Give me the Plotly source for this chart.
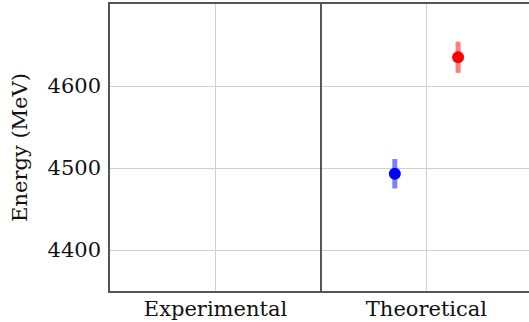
import plotly.graph_objects as go

categories = ["Experimental", "Theoretical"]
y_ticks = [4400, 4500, 4600]
series_names = ["Model A", "Model B"]
series_category = ["Theoretical", "Theoretical"]
series_values = [4493, 4635]
series_errors = [18, 19]
series_colors = ["#0000ff", "#ff0000"]
series_err_colors = ["rgba(0,0,255,0.5)", "rgba(255,0,0,0.5)"]
offsets = [-0.15, 0.15]

cat_pos = {c: i + 0.5 for i, c in enumerate(categories)}

fig = go.Figure()
for name, cat, v, e, col, ecol, off in zip(series_names, series_category, series_values,
                                             series_errors, series_colors, series_err_colors, offsets):
    fig.add_trace(go.Scatter(
        x=[cat_pos[cat] + off], y=[v], mode="markers", name=name,
        marker=dict(color=col, size=12, line=dict(width=0)),
        error_y=dict(type="data", array=[e], color=ecol, thickness=5, width=0),
        showlegend=False,
    ))

fig.add_shape(type="line", xref="x", yref="paper", x0=1, x1=1, y0=0, y1=1,
              line=dict(color="#222222", width=1.5), layer="above")

font = dict(family="DejaVu Serif", size=21, color="#111111")
fig.update_layout(
    width=529, height=322,
    margin=dict(l=110, r=0, t=4, b=31),
    paper_bgcolor="white", plot_bgcolor="white",
    font=font,
    xaxis=dict(range=[0, 1.986], tickvals=[cat_pos[c] for c in categories], ticktext=categories,
               showgrid=True, gridcolor="#d0d0d0", gridwidth=1,
               showline=True, linecolor="#555555", linewidth=1.5, mirror=True,
               ticks="", zeroline=False, tickfont=font, ticklabelstandoff=-2),
    yaxis=dict(range=[4350, 4700], tickvals=y_ticks,
               showgrid=True, gridcolor="#d0d0d0", gridwidth=1,
               showline=True, linecolor="#555555", linewidth=1.5, mirror=False,
               ticks="", zeroline=False, tickfont=font, ticklabelstandoff=3,
               title=dict(text="Energy (MeV)", font=font, standoff=14)),
)

fig.write_html("out.html")
